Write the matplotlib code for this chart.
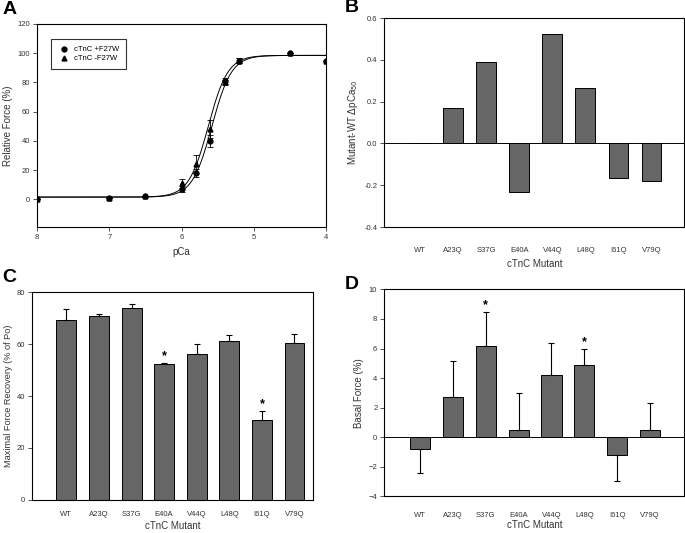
import numpy as np
import matplotlib.pyplot as plt
from matplotlib.lines import Line2D

# Panel A: force-pCa data
pca = [8.0, 7.0, 6.5, 6.0, 5.8, 5.6, 5.4, 5.2, 4.5, 4.0]
force_plus = [0, 1, 2, 7, 18, 40, 81, 95, 100, 95]
err_plus = [0, 0, 0, 2, 3, 4, 2, 1.5, 0, 0]
force_minus = [0, 1, 2, 11, 24, 48, 80, 95, 100, 95]
err_minus = [0, 0, 0, 3, 6, 6, 2, 1.5, 0, 0]
# Hill fit parameters (bottom, top, pCa50, nH)
fit_plus = (1.5, 98.5, 5.58, 3.2)
fit_minus = (1.5, 98.5, 5.63, 3.2)

# Panels B-D
mutants = ["WT", "A23Q", "S37G", "E40A", "V44Q", "L48Q", "I61Q", "V79Q"]
dpca50 = [0, 0.17, 0.39, -0.23, 0.525, 0.265, -0.165, -0.18]
recovery = [69.4, 70.7, 74.0, 52.3, 56.3, 61.0, 30.9, 60.3]
recovery_err = [4.2, 0.9, 1.5, 0.35, 3.6, 2.6, 3.5, 3.6]
recovery_sig = [False, False, False, True, False, False, True, False]
basal = [-0.81, 2.69, 6.16, 0.47, 4.18, 4.88, -1.2, 0.47]
basal_err = [1.63, 2.48, 2.31, 2.53, 2.17, 1.1, 1.8, 1.86]
basal_sig = [False, False, True, False, False, True, False, False]

bar_color = "#666666"
tick_fs = 5.5
label_fs = 7

plt.rcParams["font.family"] = ["Liberation Sans", "DejaVu Sans"]
fig = plt.figure(figsize=(6.85, 5.33), dpi=100)


def style(ax):
    ax.tick_params(labelsize=tick_fs, length=3, width=0.6, colors="#333333",
                   direction="out", pad=2)
    for s in ax.spines.values():
        s.set_linewidth(0.8)


def hill(x, p):
    b, t, m, n = p
    return b + (t - b) / (1 + 10 ** (n * (np.asarray(x) - m)))


# ---- A
axA = fig.add_axes([0.054, 0.574, 0.422, 0.381])
xs = np.linspace(8, 4, 300)
axA.plot(xs, hill(xs, fit_plus), color="black", lw=0.7)
axA.plot(xs, hill(xs, fit_minus), color="black", lw=0.7)
axA.errorbar(pca, force_plus, yerr=err_plus, fmt="o", ms=3.5, color="black",
             ecolor="black", elinewidth=0.6, capsize=2.5, capthick=0.6)
axA.errorbar(pca, force_minus, yerr=err_minus, fmt="^", ms=3.5, color="black",
             ecolor="black", elinewidth=0.6, capsize=2.5, capthick=0.6)
axA.set_xlim(8, 4)
axA.set_ylim(-19, 120)
axA.set_yticks(range(0, 121, 20))
axA.set_xticks([8, 7, 6, 5, 4])
axA.set_xlabel("pCa", fontsize=label_fs, color="#333333")
axA.set_ylabel("Relative Force (%)", fontsize=label_fs, color="#333333", labelpad=3)
style(axA)
handles = [Line2D([], [], marker="o", ls="none", color="black", ms=3.5),
           Line2D([], [], marker="^", ls="none", color="black", ms=3.5)]
leg = axA.legend(handles, ["cTnC +F27W", "cTnC -F27W"], loc="upper left",
                 bbox_to_anchor=(0.035, 0.945), fontsize=5.5, frameon=True,
                 fancybox=False, edgecolor="black", handletextpad=0.6,
                 borderpad=0.9, labelspacing=0.25, handlelength=1.5)
leg.get_frame().set_linewidth(0.8)

# ---- B
x = np.arange(len(mutants))
axB = fig.add_axes([0.561, 0.574, 0.438, 0.392])
axB.bar(x, dpca50, width=0.6, color=bar_color, edgecolor="black", linewidth=0.7)
axB.axhline(0, color="black", lw=0.7)
axB.set_xlim(-1.08, 7.99)
axB.set_ylim(-0.4, 0.6)
axB.set_yticks(np.arange(-0.4, 0.61, 0.2))
axB.set_yticklabels([f"{v:.1f}" for v in np.arange(-0.4, 0.61, 0.2)])
axB.set_xticks(x)
axB.set_xticklabels(mutants)
axB.set_xlabel("cTnC Mutant", fontsize=label_fs, color="#333333", labelpad=4)
axB.set_ylabel("Mutant-WT $\\Delta$pCa$_{50}$", fontsize=label_fs, color="#333333", labelpad=3)
style(axB)
axB.tick_params(axis="x", length=0, pad=14)

# ---- C
axC = fig.add_axes([0.047, 0.062, 0.41, 0.39])
axC.bar(x, recovery, width=0.61, color=bar_color, edgecolor="black", linewidth=0.7)
axC.errorbar(x, recovery, yerr=[np.zeros(len(x)), recovery_err], fmt="none",
             ecolor="black", elinewidth=0.8, capsize=2.5, capthick=0.8)
for xi, v, e, s in zip(x, recovery, recovery_err, recovery_sig):
    if s:
        axC.text(xi, v + e + 2.5, "*", ha="center", va="center", fontsize=9, fontweight="bold")
axC.set_xlim(-1.05, 7.57)
axC.set_ylim(0, 80)
axC.set_yticks(range(0, 81, 20))
axC.set_xticks(x)
axC.set_xticklabels(mutants)
axC.set_xlabel("cTnC Mutant", fontsize=label_fs, color="#333333", labelpad=2)
axC.set_ylabel("Maximal Force Recovery (% of Po)", fontsize=6.6, color="#333333", labelpad=3)
style(axC)
axC.tick_params(axis="x", length=0, pad=8)

# ---- D
axD = fig.add_axes([0.561, 0.069, 0.438, 0.388])
axD.bar(x, basal, width=0.61, color=bar_color, edgecolor="black", linewidth=0.7)
lower = [e if v < 0 else 0 for v, e in zip(basal, basal_err)]
upper = [e if v >= 0 else 0 for v, e in zip(basal, basal_err)]
axD.errorbar(x, basal, yerr=[lower, upper], fmt="none",
             ecolor="black", elinewidth=0.8, capsize=2.5, capthick=0.8)
for xi, v, e, s in zip(x, basal, basal_err, basal_sig):
    if s:
        axD.text(xi, v + e + 0.45, "*", ha="center", va="center", fontsize=9, fontweight="bold")
axD.axhline(0, color="black", lw=0.7)
axD.set_xlim(-1.085, 8.04)
axD.set_ylim(-4, 10)
axD.set_yticks(range(-4, 11, 2))
axD.set_xticks(x)
axD.set_xticklabels(mutants)
axD.set_xlabel("cTnC Mutant", fontsize=label_fs, color="#333333", labelpad=1)
axD.set_ylabel("Basal Force (%)", fontsize=label_fs, color="#333333", labelpad=3)
style(axD)
axD.tick_params(axis="x", length=0, pad=11)

# panel letters
for lab, px, py in [("A", 0.003, 0.983), ("B", 0.503, 0.985),
                    ("C", 0.003, 0.48), ("D", 0.503, 0.467)]:
    fig.text(px, py, lab, fontsize=14, fontweight="bold", ha="left", va="center")

fig.savefig("out.png", dpi=100)
